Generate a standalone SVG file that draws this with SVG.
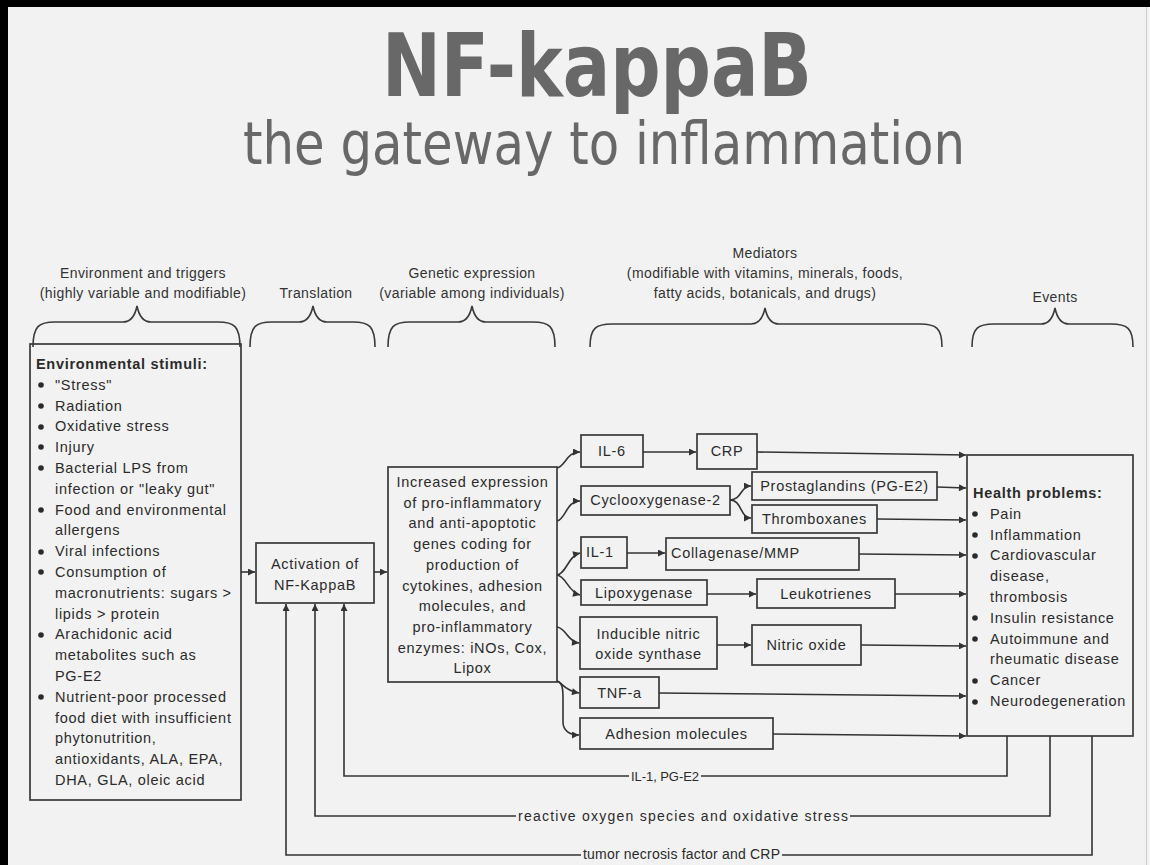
<svg xmlns="http://www.w3.org/2000/svg" width="1150" height="865" viewBox="0 0 1150 865">
<defs>
<marker id="ah" viewBox="0 0 10 10" refX="10" refY="5" markerWidth="10" markerHeight="7" markerUnits="userSpaceOnUse" orient="auto">
<path d="M0,0 L10,5 L0,10 z" fill="#333"/>
</marker>
<style>
.bg{fill:#f2f2f2}
.box{fill:none;stroke:#3a3a3a;stroke-width:1.7}
.br{fill:none;stroke:#3a3a3a;stroke-width:1.6}
.ln{fill:none;stroke:#333;stroke-width:1.6}
.la{fill:none;stroke:#333;stroke-width:1.6;marker-end:url(#ah)}
.t{font-family:"Liberation Sans",Arial,sans-serif;font-size:14.5px;letter-spacing:0.7px;fill:#2b2b2b}
.h{font-family:"Liberation Sans",Arial,sans-serif;font-size:14px;letter-spacing:0.4px;fill:#333}
.fl{font-family:"Liberation Sans",Arial,sans-serif;font-size:14px;fill:#2b2b2b}
.c{text-anchor:middle}
.b{font-weight:bold}
.dot{fill:#2b2b2b}
.title{font-family:"DejaVu Sans",Verdana,sans-serif;fill:#686868}
</style>
</defs>
<rect class="bg" x="0" y="0" width="1150" height="865"/>
<rect x="0" y="0" width="1150" height="7" fill="#000"/>
<rect x="0" y="0" width="8" height="865" fill="#000"/>
<line x1="1146.5" y1="7" x2="1146.5" y2="865" stroke="#cfcfcf" stroke-width="1"/>

<g id="title">
<text class="title" x="382" y="96" font-size="88" font-weight="bold" textLength="430" lengthAdjust="spacingAndGlyphs">NF-kappaB</text>
<text class="title" x="243" y="164" font-size="58" textLength="722" lengthAdjust="spacingAndGlyphs">the gateway to inflammation</text>
</g>

<g id="headers">
<text class="h c" x="143" y="278">Environment and triggers</text>
<text class="h c" x="143" y="298">(highly variable and modifiable)</text>
<text class="h c" x="316" y="298">Translation</text>
<text class="h c" x="472" y="278">Genetic expression</text>
<text class="h c" x="472" y="298">(variable among individuals)</text>
<text class="h c" x="765" y="258">Mediators</text>
<text class="h c" x="765" y="278">(modifiable with vitamins, minerals, foods,</text>
<text class="h c" x="765" y="298">fatty acids, botanicals, and drugs)</text>
<text class="h c" x="1055" y="302">Events</text>
</g>

<g id="braces">
<path class="br" d="M33,347 C33,326 39,322 55,322 L123,322 C131,322 135,316 137,306 C139,316 143,322 151,322 L218,322 C234,322 240,326 240,347"/>
<path class="br" d="M250,347 C250,326 256,322 272,322 L299,322 C307,322 311,316 313,306 C315,316 319,322 327,322 L353,322 C369,322 375,326 375,347"/>
<path class="br" d="M388,347 C388,326 394,322 410,322 L458,322 C466,322 470,316 472,306 C474,316 478,322 486,322 L533,322 C549,322 555,326 555,347"/>
<path class="br" d="M590,347 C590,328 596,324 612,324 L751,324 C759,324 763,318 765,308 C767,318 771,324 779,324 L920,324 C936,324 942,328 942,347"/>
<path class="br" d="M972,347 C972,328 978,324 994,324 L1041,324 C1049,324 1053,318 1055,308 C1057,318 1061,324 1069,324 L1111,324 C1127,324 1133,328 1133,347"/>
</g>

<g id="env">
<rect class="box" x="30" y="344" width="211" height="456"/>
<text class="t b" x="36" y="369">Environmental stimuli:</text>
<circle class="dot" cx="41" cy="385" r="2.8"/><circle class="dot" cx="41" cy="406" r="2.8"/><circle class="dot" cx="41" cy="427" r="2.8"/><circle class="dot" cx="41" cy="447" r="2.8"/><circle class="dot" cx="41" cy="468" r="2.8"/><circle class="dot" cx="41" cy="510" r="2.8"/><circle class="dot" cx="41" cy="552" r="2.8"/><circle class="dot" cx="41" cy="572" r="2.8"/><circle class="dot" cx="41" cy="635" r="2.8"/><circle class="dot" cx="41" cy="697" r="2.8"/>
<text class="t" x="55" y="390">"Stress"</text>
<text class="t" x="55" y="411">Radiation</text>
<text class="t" x="55" y="431">Oxidative stress</text>
<text class="t" x="55" y="452">Injury</text>
<text class="t" x="55" y="473">Bacterial LPS from</text>
<text class="t" x="55" y="494">infection or "leaky gut"</text>
<text class="t" x="55" y="515">Food and environmental</text>
<text class="t" x="55" y="535">allergens</text>
<text class="t" x="55" y="556">Viral infections</text>
<text class="t" x="55" y="577">Consumption of</text>
<text class="t" x="55" y="598">macronutrients: sugars &gt;</text>
<text class="t" x="55" y="619">lipids &gt; protein</text>
<text class="t" x="55" y="639">Arachidonic acid</text>
<text class="t" x="55" y="660">metabolites such as</text>
<text class="t" x="55" y="681">PG-E2</text>
<text class="t" x="55" y="702">Nutrient-poor processed</text>
<text class="t" x="55" y="723">food diet with insufficient</text>
<text class="t" x="55" y="743">phytonutrition,</text>
<text class="t" x="55" y="764">antioxidants, ALA, EPA,</text>
<text class="t" x="55" y="785">DHA, GLA, oleic acid</text>
</g>

<g id="activation">
<rect class="box" x="256" y="543" width="118" height="60"/>
<text class="t c" x="315" y="569">Activation of</text>
<text class="t c" x="315" y="590">NF-KappaB</text>
</g>

<g id="genes">
<rect class="box" x="388" y="467" width="169" height="215"/>
<text class="t c" x="472.5" y="487">Increased expression</text>
<text class="t c" x="472.5" y="508">of pro-inflammatory</text>
<text class="t c" x="472.5" y="528">and anti-apoptotic</text>
<text class="t c" x="472.5" y="549">genes coding for</text>
<text class="t c" x="472.5" y="570">production of</text>
<text class="t c" x="472.5" y="591">cytokines, adhesion</text>
<text class="t c" x="472.5" y="611">molecules, and</text>
<text class="t c" x="472.5" y="632">pro-inflammatory</text>
<text class="t c" x="472.5" y="653">enzymes: iNOs, Cox,</text>
<text class="t c" x="472.5" y="673">Lipox</text>
</g>

<g id="il6"><rect class="box" x="581" y="435" width="62" height="32"/><text class="t c" x="612" y="456">IL-6</text></g>
<g id="crp"><rect class="box" x="697" y="434" width="60" height="35"/><text class="t c" x="727" y="456">CRP</text></g>
<g id="cox2"><rect class="box" x="581" y="486" width="149" height="29"/><text class="t c" x="655.5" y="505">Cyclooxygenase-2</text></g>
<g id="pg"><rect class="box" x="752" y="472" width="185" height="28"/><text class="t c" x="844.5" y="491">Prostaglandins (PG-E2)</text></g>
<g id="tx"><rect class="box" x="752" y="505" width="125" height="28"/><text class="t c" x="814.5" y="524">Thromboxanes</text></g>
<g id="il1"><rect class="box" x="581" y="537" width="46" height="31"/><text class="t" x="586" y="557">IL-1</text></g>
<g id="coll"><rect class="box" x="666" y="538" width="193" height="32"/><text class="t" x="671" y="558">Collagenase/MMP</text></g>
<g id="lipox"><rect class="box" x="581" y="580" width="126" height="25"/><text class="t c" x="644" y="598">Lipoxygenase</text></g>
<g id="leuko"><rect class="box" x="757" y="579" width="138" height="29"/><text class="t c" x="826" y="599">Leukotrienes</text></g>
<g id="inos"><rect class="box" x="580" y="617" width="137" height="52"/><text class="t c" x="648.5" y="639">Inducible nitric</text><text class="t c" x="648.5" y="659">oxide synthase</text></g>
<g id="no"><rect class="box" x="752" y="625" width="109" height="40"/><text class="t c" x="806.5" y="650">Nitric oxide</text></g>
<g id="tnf"><rect class="box" x="580" y="677" width="79" height="31"/><text class="t c" x="619.5" y="698">TNF-a</text></g>
<g id="adh"><rect class="box" x="580" y="718" width="193" height="31"/><text class="t c" x="676.5" y="739">Adhesion molecules</text></g>

<g id="health">
<rect class="box" x="967" y="455" width="166" height="281"/>
<text class="t b" x="973" y="498">Health problems:</text>
<circle class="dot" cx="975" cy="514" r="2.8"/><circle class="dot" cx="975" cy="535" r="2.8"/><circle class="dot" cx="975" cy="556" r="2.8"/><circle class="dot" cx="975" cy="618" r="2.8"/><circle class="dot" cx="975" cy="639" r="2.8"/><circle class="dot" cx="975" cy="681" r="2.8"/><circle class="dot" cx="975" cy="702" r="2.8"/>
<text class="t" x="990" y="519">Pain</text>
<text class="t" x="990" y="540">Inflammation</text>
<text class="t" x="990" y="560">Cardiovascular</text>
<text class="t" x="990" y="581">disease,</text>
<text class="t" x="990" y="602">thrombosis</text>
<text class="t" x="990" y="623">Insulin resistance</text>
<text class="t" x="990" y="644">Autoimmune and</text>
<text class="t" x="990" y="664">rheumatic disease</text>
<text class="t" x="990" y="685">Cancer</text>
<text class="t" x="990" y="706">Neurodegeneration</text>
</g>

<g id="connectors">
<line class="la" x1="241" y1="572" x2="255" y2="572"/>
<line class="la" x1="374" y1="572" x2="387" y2="572"/>
<path class="la" d="M557,468 C566,466 566,452 580,452"/>
<path class="la" d="M557,521 C566,519 566,501 580,501"/>
<path class="la" d="M557,575 C566,574 568,556 580,553"/>
<path class="la" d="M557,575 C566,576 568,592 580,595"/>
<path class="la" d="M557,627 C566,628 568,642 579,643"/>
<path class="la" d="M557,681 C563,683 563,690 579,693"/>
<path class="la" d="M557,681 C563,683 563,690 563,700 L563,722 C563,731 570,735 579,735"/>
<line class="la" x1="643" y1="452" x2="696" y2="452"/>
<path class="la" d="M730,500 C742,500 740,486 751,486"/>
<path class="la" d="M730,500 C742,500 740,518 751,518"/>
<line class="la" x1="627" y1="553" x2="665" y2="553"/>
<line class="la" x1="707" y1="594" x2="756" y2="594"/>
<line class="la" x1="717" y1="645" x2="751" y2="645"/>
<line class="la" x1="757" y1="452" x2="966" y2="455"/>
<line class="la" x1="937" y1="487" x2="966" y2="488"/>
<line class="la" x1="877" y1="519" x2="966" y2="520"/>
<line class="la" x1="859" y1="554" x2="966" y2="555"/>
<line class="la" x1="895" y1="594" x2="966" y2="594"/>
<line class="la" x1="861" y1="645" x2="966" y2="646"/>
<line class="la" x1="659" y1="693" x2="966" y2="696"/>
<line class="la" x1="773" y1="734" x2="966" y2="736"/>
<path class="ln" d="M1007,736 V776 H701"/>
<path class="la" d="M629,776 H344 V604"/>
<path class="ln" d="M1050,736 V816 H850"/>
<path class="la" d="M516,816 H315 V604"/>
<path class="ln" d="M1092,736 V855 H782"/>
<path class="la" d="M581,855 H286 V604"/>
<text class="fl" x="631" y="781" font-size="13" textLength="68" lengthAdjust="spacing" style="font-size:13px">IL-1, PG-E2</text>
<text class="fl" x="518" y="821" textLength="330" lengthAdjust="spacing">reactive oxygen species and oxidative stress</text>
<text class="fl" x="583" y="859" textLength="197" lengthAdjust="spacing">tumor necrosis factor and CRP</text>
</g>
</svg>
